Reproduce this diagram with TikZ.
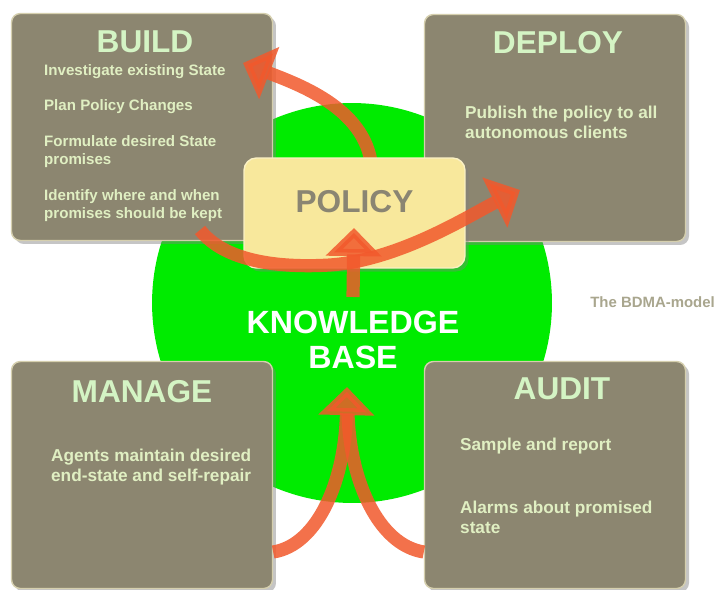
\documentclass[tikz,border=0pt]{standalone}
\usepackage{fontspec}
\setmainfont{Liberation Sans}
\usetikzlibrary{arrows.meta,positioning,shadows}

\definecolor{boxgray}{HTML}{8C8670}
\definecolor{boxrim}{HTML}{D5CFAE}
\definecolor{headgreen}{HTML}{D4F4C4}
\definecolor{textgreen}{HTML}{E0EFC2}
\definecolor{kbgreen}{HTML}{00EB00}
\definecolor{policyfill}{HTML}{F8E89C}
\definecolor{policytext}{HTML}{8A8572}
\definecolor{flow}{HTML}{F2592C}
\definecolor{notegray}{HTML}{A9A68E}

\tikzset{
  phase/.style={draw=boxrim,line width=0.8pt,fill=boxgray,rounded corners=5pt,
    minimum width=5.22cm,minimum height=4.54cm,
    drop shadow={shadow xshift=2pt,shadow yshift=-2pt,opacity=0.45}},
  policybox/.style={draw=policyfill!60!white,line width=0.8pt,fill=policyfill,rounded corners=7pt,
    minimum width=4.42cm,minimum height=2.2cm,
    drop shadow={shadow xshift=2pt,shadow yshift=-2pt,opacity=0.4}},
  title/.style={font=\bfseries\fontsize{18}{20}\selectfont,text=headgreen},
  smallitem/.style={font=\bfseries\fontsize{8.6}{10.2}\selectfont,text=textgreen,align=left,inner sep=0pt},
  item/.style={font=\bfseries\fontsize{9.8}{11.3}\selectfont,text=textgreen,align=left,inner sep=0pt},
  flowline/.style={draw=flow,line width=7.5pt,opacity=0.85},
  flowarrow/.style={flowline,-{Triangle[width=31pt,length=16pt]}},
}

\begin{document}
\begin{tikzpicture}[x=0.02cm,y=-0.02cm]
\useasboundingbox (0,0) rectangle (715,590);
\fill[white] (0,0) rectangle (715,590);

% knowledge base disc behind everything
\node[circle,fill=kbgreen,minimum size=8cm,inner sep=0pt] (kbdisc) at (352,303) {};

% the four phases
\node[phase] (build) at (142,127) {};
\node[phase] (deploy) at (555,128) {};
\node[phase] (manage) at (142,475) {};
\node[phase] (audit) at (555,475) {};

\node[title] (buildtitle) at ([yshift=-0.58cm,xshift=0.06cm]build.north) {BUILD};
\node[smallitem,below right=1.02cm and 0.66cm of build.north west] (buildlist)
  {Investigate existing State\\[10.2pt]Plan Policy Changes\\[10.2pt]Formulate desired State\\promises\\[10.2pt]Identify where and when\\promises should be kept};

\node[title] (deploytitle) at ([yshift=-0.58cm,xshift=0.06cm]deploy.north) {DEPLOY};
\node[item,below right=1.84cm and 0.82cm of deploy.north west] (deploylist)
  {Publish the policy to all\\autonomous clients};

\node[title] (managetitle) at ([yshift=-0.62cm]manage.north) {MANAGE};
\node[item,below right=1.76cm and 0.8cm of manage.north west] (managelist)
  {Agents maintain desired\\end-state and self-repair};

\node[title] (audittitle) at ([yshift=-0.56cm,xshift=0.14cm]audit.north) {AUDIT};
\node[item,below right=1.53cm and 0.72cm of audit.north west] (auditlist)
  {Sample and report\\[25pt]Alarms about promised\\state};

% policy back to build (runs under the policy card)
\coordinate (buildtip) at (243,63);
\draw[flowarrow] (372,172) .. controls (370,110) and (300,85) .. (buildtip);

\node[policybox] (policy) at (354.5,213) {};
\node[font=\bfseries\fontsize{18}{20}\selectfont,text=policytext] (policytitle) at (policy) [yshift=0.22cm] {POLICY};

\node[font=\bfseries\fontsize{18.3}{20.4}\selectfont,text=white,align=center] (kb) at (353,340) {KNOWLEDGE\\BASE};

% build -> deploy through the policy
\coordinate (buildout) at (200,230);
\coordinate (deploytip) at (520,190);
\draw[flowarrow] (buildout) .. controls (225,262) and (280,268) .. (330,265)
  .. controls (400,260) and (470,215) .. (deploytip);

% knowledge base feeds the policy
\coordinate (kbtop) at (353,297);
\coordinate (policyin) at (354,228);
\draw[flowarrow] (kbtop) -- (policyin);

% manage and audit feed the knowledge base
\coordinate (kbin) at (347,387);
\draw[flowarrow] ([yshift=-1.54cm]manage.east) .. controls (318,545) and (345,480) .. (kbin);
\draw[flowline] ([yshift=-1.54cm]audit.west) .. controls (378,545) and (350,480) .. (348,414);

\node[font=\bfseries\fontsize{8.5}{10}\selectfont,text=notegray,anchor=west,inner sep=0pt] (note) at (590,302) {The BDMA-model};
\end{tikzpicture}
\end{document}
